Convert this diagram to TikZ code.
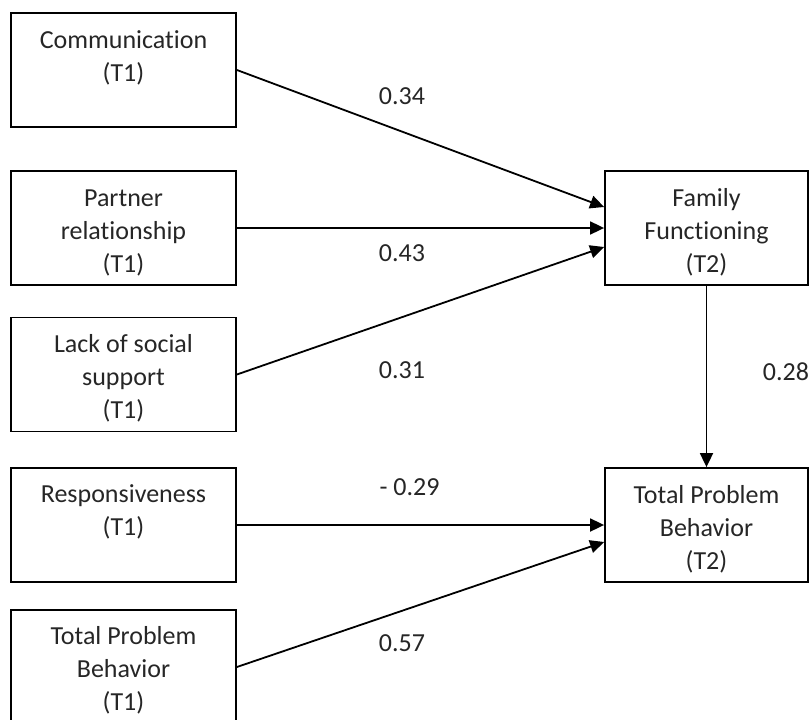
\documentclass[tikz,border=0pt]{standalone}
\usepackage{fontspec}
\setmainfont{Carlito}[Ligatures={NoCommon,NoRare,NoContextual}]
\usetikzlibrary{arrows.meta}
\definecolor{txtc}{RGB}{38,38,38}
\begin{document}
\begin{tikzpicture}[x=1pt,y=-1pt,
  box/.style={draw=black, line width=1.8pt, minimum width=225pt, minimum height=114pt, inner sep=0pt},
  rbox/.style={box, minimum width=203pt},
  txt/.style={anchor=north, align=center, inner sep=0pt, text=txtc, font=\fontsize{26}{33}\selectfont},
  lab/.style={inner sep=0pt, text=txtc, font=\fontsize{26}{33}\selectfont},
  conn/.style={line width=1.8pt, -{Triangle[length=14pt,width=13pt]}}]
\path[use as bounding box] (0,0) rectangle (809,720);
\clip (0,0) rectangle (809,720);
% boxes
\node[box] (comm) at (123.5,70) {};
\node[box] (partner) at (123.5,228) {};
\node[box] (lack) at (123.5,374.5) {};
\node[box] (resp) at (123.5,525) {};
\node[box] (tpbA) at (123.5,667) {};
\node[rbox] (ff) at (706.5,228) {};
\node[rbox] (tpbB) at (706.5,525) {};
% box texts
\node[txt] (commT) at ([yshift=-13pt]comm.north) {\strut Communicat\kern0pt ion\\\strut (T1)};
\node[txt] (partnerT) at ([yshift=-13pt]partner.north) {\strut Partner\\\strut relationship\\\strut (T1)};
\node[txt] (lackT) at ([yshift=-13pt]lack.north) {\strut Lack of social\\\strut support\\\strut (T1)};
\node[txt] (respT) at ([yshift=-12pt]resp.north) {\strut Responsiveness\\\strut (T1)};
\node[txt] (tpbAT) at ([yshift=-12pt]tpbA.north) {\strut Total Problem\\\strut Behavior\\\strut (T1)};
\node[txt] (ffT) at ([yshift=-13pt]ff.north) {\strut Family\\\strut Functioning\\\strut (T2)};
\node[txt] (tpbBT) at ([yshift=-13pt]tpbB.north) {\strut Total Problem\\\strut Behavior\\\strut (T2)};
% connectors
\draw[conn] (comm.east) -- ([yshift=21pt]ff.west);
\draw[conn] (partner.east) -- (ff.west);
\draw[conn] (lack.east) -- ([yshift=-19pt]ff.west);
\draw[conn] (resp.east) -- (tpbB.west);
\draw[conn] (tpbA.east) -- ([yshift=-17pt]tpbB.west);
\draw[conn] (ff.south) -- (tpbB.north);
% labels
\node[lab] (l1) at (402,96) {0.34};
\node[lab] (l2) at (402,253) {0.43};
\node[lab] (l3) at (402,370) {0.31};
\node[lab] (l4) at (409.5,487.5) {- 0.29};
\node[lab] (l5) at (402,643) {0.57};
\node[lab] (l6) at (786,372) {0.28};
\end{tikzpicture}
\end{document}
